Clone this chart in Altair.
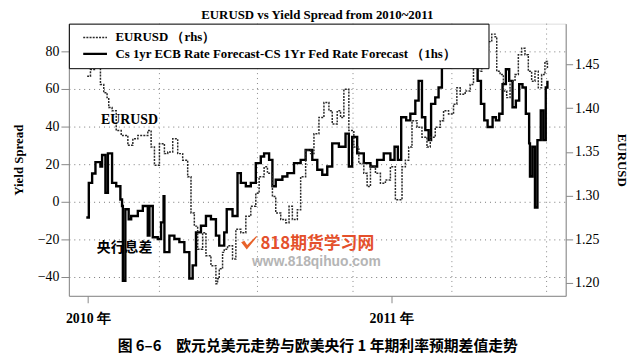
import altair as alt
import pandas as pd

EUR_NAME = "EURUSD （rhs）"
SPR_NAME = "Cs 1yr ECB Rate Forecast-CS 1Yr Fed Rate Forecast （1hs）"

spread_dates = [
    "2009-12-30", "2010-01-02", "2010-01-06", "2010-01-10", "2010-01-16", "2010-01-18",
    "2010-01-22", "2010-01-25", "2010-01-30", "2010-02-04", "2010-02-09", "2010-02-11",
    "2010-02-12", "2010-02-15", "2010-02-19", "2010-02-22", "2010-03-02", "2010-03-08",
    "2010-03-14", "2010-03-16", "2010-03-20", "2010-03-26", "2010-03-30", "2010-04-02",
    "2010-04-03", "2010-04-09", "2010-04-15", "2010-04-21", "2010-04-27", "2010-05-03",
    "2010-05-07", "2010-05-11", "2010-05-17", "2010-05-23", "2010-05-29", "2010-06-04",
    "2010-06-08", "2010-06-14", "2010-06-17", "2010-06-24", "2010-06-30", "2010-07-04",
    "2010-07-10", "2010-07-16", "2010-07-22", "2010-07-28", "2010-08-01", "2010-08-07",
    "2010-08-11", "2010-08-15", "2010-08-23", "2010-08-29", "2010-09-06", "2010-09-14",
    "2010-09-20", "2010-09-28", "2010-10-04", "2010-10-10", "2010-10-16", "2010-10-22",
    "2010-10-30", "2010-11-07", "2010-11-11", "2010-11-15", "2010-11-21", "2010-11-29",
    "2010-12-07", "2010-12-15", "2010-12-23", "2010-12-31", "2011-01-05", "2011-01-09",
    "2011-01-13", "2011-01-19", "2011-01-24", "2011-01-30", "2011-02-03", "2011-02-07",
    "2011-02-11", "2011-02-15", "2011-02-18", "2011-02-23", "2011-02-27", "2011-03-03",
    "2011-03-13", "2011-03-25", "2011-04-02", "2011-04-09", "2011-04-15", "2011-04-19",
    "2011-04-23", "2011-04-27", "2011-05-03", "2011-05-07", "2011-05-11", "2011-05-15",
    "2011-05-19", "2011-05-23", "2011-05-27", "2011-05-31", "2011-06-04", "2011-06-08",
    "2011-06-12", "2011-06-16", "2011-06-17", "2011-06-20", "2011-06-23", "2011-06-26",
    "2011-06-30", "2011-07-03", "2011-07-06", "2011-07-08",
]
spread_values = [
    -8.4, 10, 15, 21, 18.7, 24.8,
    4.7, 25.7, 10, 8.2, 1.2, -2.3,
    -42, -4, -9.3, -7.6, -4.9, -2.3,
    -18, -2.3, -18.9, -19.8, -11, 3,
    -26.8, -18, -19.8, -21.5, -26.8, -40.8,
    -33.8, -16.3, -12.8, -7.6, -9.3, -18,
    -23.3, -16.3, -4, -7.6, 15.2, 10,
    8.2, 10, 20.5, 24, 25.7, 22.2,
    8.2, 11.7, 13.4, 15.2, 20.5, 22.2,
    27.5, 22.2, 17, 14.3, 18.7, 31,
    29.2, 36.2, 18.7, 34.4, 25.7, 20.5,
    18.7, 22.2, 25.7, 22.2, 29.2, 22.2,
    44.9, 43.2, 46.7, 53.7, 64.2, 44.9,
    38, 32.7, 52, 55.4, 60.7, 71.2,
    82, 85, 78, 71.2, 64.2, 52,
    43.2, 39.7, 44.9, 43.2, 46.7, 62.5,
    70.4, 64.2, 50.2, 53.7, 62.5, 60.7,
    46.7, 31, 13.4, 29.2, -3.1, 32.7,
    48.5, 32.7, 60.7, 64.2,
]

eur_dates = [
    "2009-12-31", "2010-01-04", "2010-01-10", "2010-01-14", "2010-01-16", "2010-01-20",
    "2010-01-24", "2010-01-26", "2010-01-30", "2010-02-04", "2010-02-10", "2010-02-18",
    "2010-02-24", "2010-03-02", "2010-03-08", "2010-03-14", "2010-03-18", "2010-03-22",
    "2010-03-28", "2010-04-03", "2010-04-07", "2010-04-13", "2010-04-19", "2010-04-25",
    "2010-05-01", "2010-05-05", "2010-05-09", "2010-05-13", "2010-05-19", "2010-05-23",
    "2010-05-29", "2010-06-04", "2010-06-06", "2010-06-08", "2010-06-12", "2010-06-14",
    "2010-06-18", "2010-06-24", "2010-06-28", "2010-07-04", "2010-07-10", "2010-07-16",
    "2010-07-22", "2010-07-26", "2010-08-01", "2010-08-05", "2010-08-11", "2010-08-15",
    "2010-08-21", "2010-08-27", "2010-08-31", "2010-09-04", "2010-09-10", "2010-09-14",
    "2010-09-20", "2010-09-26", "2010-09-30", "2010-10-06", "2010-10-12", "2010-10-18",
    "2010-10-22", "2010-10-28", "2010-11-01", "2010-11-05", "2010-11-11", "2010-11-17",
    "2010-11-23", "2010-11-29", "2010-12-03", "2010-12-07", "2010-12-13", "2010-12-19",
    "2010-12-25", "2010-12-31", "2011-01-06", "2011-01-10", "2011-01-14", "2011-01-18",
    "2011-01-22", "2011-01-26", "2011-02-01", "2011-02-07", "2011-02-13", "2011-02-17",
    "2011-02-23", "2011-03-01", "2011-03-05", "2011-03-11", "2011-03-17", "2011-03-21",
    "2011-03-25", "2011-03-31", "2011-04-06", "2011-04-10", "2011-04-16", "2011-04-20",
    "2011-04-24", "2011-04-28", "2011-05-02", "2011-05-06", "2011-05-08", "2011-05-12",
    "2011-05-16", "2011-05-20", "2011-05-24", "2011-05-30", "2011-06-03", "2011-06-07",
    "2011-06-11", "2011-06-15", "2011-06-19", "2011-06-23", "2011-06-27", "2011-07-01",
    "2011-07-05", "2011-07-08",
]
eur_values = [
    1.4367, 1.4443, 1.45, 1.448, 1.4273, 1.4178,
    1.4122, 1.4008, 1.3971, 1.3744, 1.3688, 1.3575,
    1.365, 1.3688, 1.3688, 1.3744, 1.3555, 1.3348,
    1.3594, 1.348, 1.35, 1.365, 1.348, 1.3405,
    1.3215, 1.280, 1.2649, 1.2385, 1.2574, 1.231,
    1.2196, 1.1989, 1.2045, 1.2159, 1.2348, 1.2385,
    1.2423, 1.2272, 1.2612, 1.2574, 1.2762, 1.2876,
    1.3027, 1.3215, 1.3329, 1.3254, 1.2989, 1.280,
    1.2725, 1.2688, 1.2876, 1.2725, 1.2838, 1.3215,
    1.3518, 1.348, 1.3707, 1.3895, 1.4065, 1.3971,
    1.382, 1.3971, 1.3895, 1.4217, 1.3744, 1.3555,
    1.3367, 1.3254, 1.3102, 1.3329, 1.3254, 1.3141,
    1.3178, 1.3329, 1.2951, 1.2951, 1.3329, 1.3405,
    1.3555, 1.3858, 1.3782, 1.3669, 1.3555, 1.3669,
    1.3782, 1.3858, 1.3971, 1.3934, 1.4047, 1.4235,
    1.416, 1.4198, 1.4273, 1.4461, 1.4424, 1.45,
    1.465, 1.4764, 1.485, 1.482, 1.4424, 1.4387,
    1.4198, 1.4122, 1.4311, 1.4387, 1.4613, 1.4688,
    1.4613, 1.4424, 1.4311, 1.4424, 1.4235, 1.4387,
    1.4537, 1.4461,
]

vgrid_dates = ["2010-03-28", "2010-07-24", "2010-11-16", "2011-03-15", "2011-07-07"]

left_ticks = [-40, -20, 0, 20, 40, 60, 80]
right_ticks = [1.20, 1.25, 1.30, 1.35, 1.40, 1.45]

title_text = "EURUSD vs Yield Spread from 2010~2011"
caption_text = "图 6–6　欧元兑美元走势与欧美央行 1 年期利率预期差值走势"

spread_df = pd.DataFrame({"date": spread_dates, "v": spread_values, "series": SPR_NAME})
eur_df = pd.DataFrame({"date": eur_dates, "v": eur_values, "series": EUR_NAME})
vgrid_df = pd.DataFrame({"date": vgrid_dates})

eur_note = pd.DataFrame({"date": ["2010-02-20"], "v": [1.386], "t": ["EURUSD"]})
spr_note = pd.DataFrame({"date": ["2010-02-14"], "v": [-24.7], "t": ["央行息差"]})
wm1 = pd.DataFrame({"date": ["2010-10-04"], "v": [-22.4], "t": ["818期货学习网"]})
wm2 = pd.DataFrame({"date": ["2010-10-03"], "v": [-31.9], "t": ["www.818qihuo.com"]})
wm_logo = pd.DataFrame({"date": ["2010-07-14"], "v": [-22.0]})

SERIF = "Liberation Serif"
CJK = "Noto Sans CJK SC"

x_enc = alt.X(
    "date:T",
    scale=alt.Scale(
        type="utc",
        domain=[alt.DateTime(year=2009, month=12, date=9, utc=True),
                alt.DateTime(year=2011, month=7, date=30, utc=True)],
        nice=False,
    ),
    axis=alt.Axis(
        values=[alt.DateTime(year=2010, month=1, date=1, utc=True),
                alt.DateTime(year=2011, month=1, date=1, utc=True)],
        format="%Y 年",
        grid=False,
        labelFont=SERIF, labelFontSize=14, labelFontWeight="bold", labelColor="black",
        tickSize=7, labelPadding=9,
        title=caption_text, titleFont=CJK, titleFontSize=15, titleFontWeight="bold",
        titleColor="black", titlePadding=13,
    ),
)

axL = alt.Axis(
    values=left_ticks, title="Yield Spread", titleFont=SERIF, titleFontSize=13,
    titleFontWeight="bold", titleColor="black", titlePadding=12,
    labelFont=SERIF, labelFontSize=14, labelColor="black", tickSize=8, labelPadding=2,
    grid=True, gridDash=[1, 4], gridColor="#777", gridWidth=1, orient="left",
)
axR = alt.Axis(
    values=right_ticks, format=".2f", title="EURUSD", titleFont=SERIF, titleFontSize=13,
    titleFontWeight="bold", titleColor="black", titlePadding=16,
    labelFont=SERIF, labelFontSize=14, labelColor="black", tickSize=7, labelPadding=2,
    grid=False, orient="right",
)
yL = alt.Y("v:Q", scale=alt.Scale(domain=[-50, 94.6], nice=False, zero=False), axis=axL)
yR = alt.Y("v:Q", scale=alt.Scale(domain=[1.185, 1.497], nice=False, zero=False), axis=axR)

names = [EUR_NAME, SPR_NAME]
leg = alt.Legend(
    orient="none", legendX=0, legendY=0,
    title="MM", titleOrient="right", titleColor="white", titleFontSize=13, titlePadding=4,
    fillColor="white", strokeColor="black", padding=7,
    symbolType="M-2,0H2", symbolSize=144, symbolOffset=12, labelOffset=13,
    rowPadding=2, labelFont=SERIF, labelFontSize=13, labelFontWeight="bold",
    labelColor="black", labelLimit=0,
)
color_enc = alt.Color("series:N", scale=alt.Scale(domain=names, range=["#2a2a2a", "#000000"]), legend=leg)
dash_enc = alt.StrokeDash("series:N", scale=alt.Scale(domain=names, range=[[2, 1.2], [1, 0]]), legend=leg)
width_enc = alt.StrokeWidth("series:N", scale=alt.Scale(domain=names, range=[1.5, 2.4]), legend=leg)

vgrid = alt.Chart(vgrid_df).mark_rule(color="#888", strokeDash=[1, 4], strokeWidth=1).encode(x=x_enc)

spread_line = alt.Chart(spread_df).mark_line(interpolate="step-after").encode(
    x=x_enc, y=yL, color=color_enc, strokeDash=dash_enc, strokeWidth=width_enc
)
spr_text = alt.Chart(spr_note).mark_text(font=CJK, fontSize=14, fontWeight="bold", color="black").encode(
    x=x_enc, y=yL, text="t:N"
)
wm1_text = alt.Chart(wm1).mark_text(font=CJK, fontSize=17, fontWeight="bold", color="#e4502b").encode(
    x=x_enc, y=yL, text="t:N"
)
wm2_text = alt.Chart(wm2).mark_text(font="Liberation Sans", fontSize=14, fontWeight="bold", color="#b5b5b5").encode(
    x=x_enc, y=yL, text="t:N"
)
logo = alt.Chart(wm_logo).mark_point(
    shape="M-1,-0.1 L-0.3,0.8 L1,-0.8 L0.9,-0.9 L-0.25,0.25 L-0.6,-0.3 Z",
    filled=True, color="#e8622a", opacity=1, size=260,
).encode(x=x_enc, y=yL)
left_group = alt.layer(vgrid, spread_line, spr_text, wm1_text, wm2_text, logo)

eur_line = alt.Chart(eur_df).mark_line(interpolate="step-after").encode(
    x=x_enc, y=yR, color=color_enc, strokeDash=dash_enc, strokeWidth=width_enc
)
eur_text = alt.Chart(eur_note).mark_text(font=SERIF, fontSize=14, fontWeight="bold", color="black").encode(
    x=x_enc, y=yR, text="t:N"
)
right_group = alt.layer(eur_line, eur_text)

chart = alt.layer(left_group, right_group).resolve_scale(y="independent").properties(
    width=502, height=275,
    title=alt.TitleParams(title_text, font=SERIF, fontSize=13, fontWeight="bold",
                          color="black", anchor="middle", offset=1),
    padding={"left": 61.5, "top": 14, "right": 68, "bottom": 60},
    autosize=alt.AutoSizeParams(type="none"),
).configure_view(stroke="black", strokeWidth=1.5).configure_axis(
    domainColor="black", domainWidth=1.5, tickColor="black", tickWidth=1.5
).configure(background="white")

chart.save("out.html", embed_options={"renderer": "svg", "actions": False})
